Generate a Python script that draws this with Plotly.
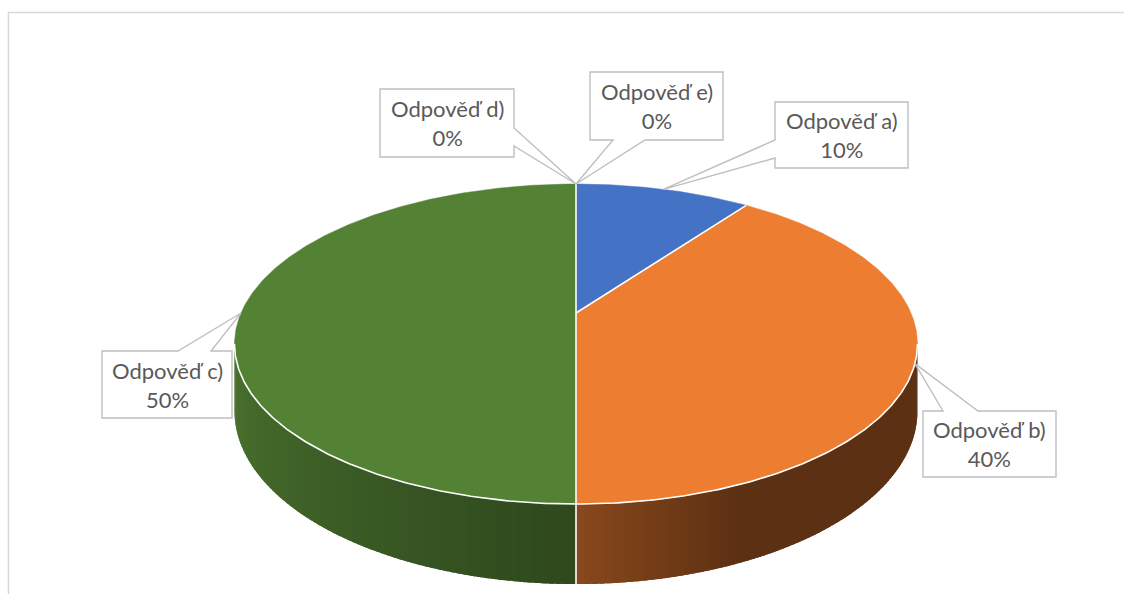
import math
import plotly.graph_objects as go

# ---------------- data ----------------
categories = ["Odpověď a)", "Odpověď b)", "Odpověď c)", "Odpověď d)", "Odpověď e)"]
values = [10, 40, 50, 0, 0]
slice_colors = ["#4472C4", "#ED7D31", "#548235", "#FFC000", "#5B9BD5"]

# ---------------- pie geometry (pixel space, perspective projection) ----------------
W, H = 1124, 594
CX, CY = 576.0, 313.0      # projected pie centre
A, B = 335.0, 154.0        # horizontal / vertical radius factors
K = 0.194                  # perspective strength
DEP = 64.5                 # thickness of the pie
TH_S = math.degrees(math.acos(-K))   # silhouette angle of side


def proj(theta, depth=0.0):
    t = math.radians(theta)
    u, v = math.sin(t), math.cos(t)
    den = 1 + K * v
    return CX + A * u / den, CY - B * v / den + depth * DEP / den


def arc(t1, t2, depth=0.0, step=1.0):
    n = max(2, int(abs(t2 - t1) / step) + 1)
    pts = [proj(t1 + (t2 - t1) * i / (n - 1), depth) for i in range(n)]
    return [p[0] for p in pts], [p[1] for p in pts]


def shade(hexcol, f):
    h = hexcol.lstrip("#")
    r, g, b = (int(h[i:i + 2], 16) for i in (0, 2, 4))
    return "rgb(%d,%d,%d)" % (min(255, r * f), min(255, g * f), min(255, b * f))


def side_factor(theta):
    if theta <= 180:
        return max(0.39, 0.58 - (180 - theta) * 0.0082)
    return 0.56 + (theta - 180) / (360 - TH_S - 180) * 0.33


total = sum(values)
bounds = []
acc = 0.0
for v in values:
    a0 = acc / total * 360
    acc += v
    bounds.append((a0, acc / total * 360))

fig = go.Figure()

# sides (gradient strips, each slightly overlapping the next to hide seams)
for (t1, t2), col, v in zip(bounds, slice_colors, values):
    if v <= 0:
        continue
    lo, hi = max(t1, TH_S), min(t2, 360 - TH_S)
    if hi <= lo:
        continue
    n = max(1, int((hi - lo) / 1.0))
    step = (hi - lo) / n
    for i in range(n):
        a = lo + step * i
        b = min(hi, a + step * 1.8)
        xt, yt = arc(a, b, 0, 0.4)
        xb, yb = arc(b, a, 1, 0.4)
        c = shade(col, side_factor(a + step / 2))
        fig.add_trace(go.Scatter(x=xt + xb + [xt[0]], y=yt + yb + [yt[0]], mode="lines",
                                 fill="toself", fillcolor=c, line=dict(width=0),
                                 hoverinfo="skip", showlegend=False))

# top faces
for (t1, t2), col, v, name in zip(bounds, slice_colors, values, categories):
    if v <= 0:
        continue
    xs, ys = arc(t1, t2, 0, 0.5)
    fig.add_trace(go.Scatter(x=[CX] + xs + [CX], y=[CY] + ys + [CY], mode="lines",
                             fill="toself", fillcolor=col, line=dict(color=col, width=0.5),
                             hoverinfo="skip", showlegend=False, name=name))

# white edges
WL = dict(color="white", width=1.6)
xr, yr = arc(TH_S, 360 - TH_S, 0, 0.5)
fig.add_trace(go.Scatter(x=xr, y=yr, mode="lines", line=WL, hoverinfo="skip", showlegend=False))
edge_angles = sorted(set(round(b[0], 6) % 360 for b, v in zip(bounds, values) if v > 0))
for a in edge_angles:
    px, py = proj(a)
    fig.add_trace(go.Scatter(x=[CX, px], y=[CY, py], mode="lines", line=WL,
                             hoverinfo="skip", showlegend=False))
    if TH_S < a < 360 - TH_S:
        bx, by = proj(a, 1)
        fig.add_trace(go.Scatter(x=[px, bx], y=[py, by], mode="lines", line=WL,
                                 hoverinfo="skip", showlegend=False))

# ---------------- label callouts ----------------
# box: (x0, y0, x1, y1), side of pointer, pointer base positions along that side
label_layout = {
    "Odpověď a)": ((775, 102, 908, 168), "left", (140, 158)),
    "Odpověď b)": ((923, 411, 1056, 477), "top", (943, 978)),
    "Odpověď c)": ((102, 351, 232, 418), "top", (178, 211)),
    "Odpověď d)": ((380, 89, 514, 157), "right", (128, 146)),
    "Odpověď e)": ((590, 72, 723, 140), "bottom", (645, 613)),
}

shapes = [dict(type="rect", xref="x", yref="y", x0=8.5, y0=12.5, x1=W + 10, y1=H + 10,
               line=dict(color="#D9D9D9", width=1.5), fillcolor="rgba(0,0,0,0)", layer="below")]
annotations = []
for (t1, t2), v, name in zip(bounds, values, categories):
    (x0, y0, x1, y1), side, (p1, p2) = label_layout[name]
    tx, ty = proj((t1 + t2) / 2)
    if side == "left":
        pts = [(x0, y0), (x1, y0), (x1, y1), (x0, y1), (x0, p2), (tx, ty), (x0, p1)]
    elif side == "right":
        pts = [(x0, y0), (x1, y0), (x1, p1), (tx, ty), (x1, p2), (x1, y1), (x0, y1)]
    elif side == "top":
        pts = [(x0, y0), (p1, y0), (tx, ty), (p2, y0), (x1, y0), (x1, y1), (x0, y1)]
    else:
        pts = [(x0, y0), (x1, y0), (x1, y1), (p1, y1), (tx, ty), (p2, y1), (x0, y1)]
    path = "M " + " L ".join("%.1f,%.1f" % p for p in pts) + " Z"
    shapes.append(dict(type="path", xref="x", yref="y", path=path, fillcolor="white",
                       line=dict(color="#BFBFBF", width=1.4), layer="above"))
    annotations.append(dict(x=(x0 + x1) / 2, y=(y0 + y1) / 2, xref="x", yref="y",
                            text="%s<br>%d%%" % (name, round(v / total * 100)),
                            showarrow=False, font=dict(family="Lato", size=22, color="#595959"),
                            align="center"))

fig.update_layout(
    width=W, height=H, autosize=False,
    margin=dict(l=0, r=0, t=0, b=0),
    paper_bgcolor="white", plot_bgcolor="white",
    xaxis=dict(range=[0, W], visible=False, fixedrange=True),
    yaxis=dict(range=[H, 0], visible=False, fixedrange=True),
    shapes=shapes, annotations=annotations, showlegend=False,
)

fig.write_html("out.html", config={"displayModeBar": False})
